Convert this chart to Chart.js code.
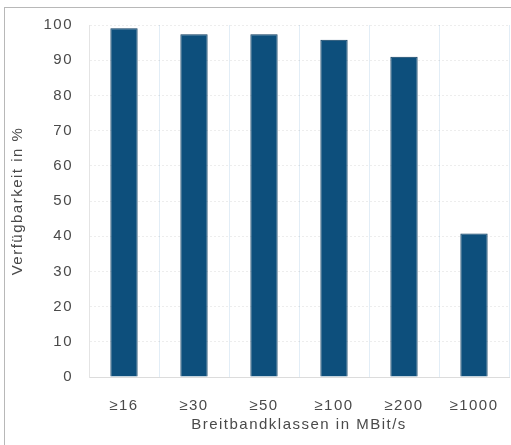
<!DOCTYPE html>
<html>
<head>
<meta charset="utf-8">
<script src="https://cdn.jsdelivr.net/npm/chart.js@4/dist/chart.umd.min.js"></script>
<style>
  html, body { margin: 0; padding: 0; background: #fff; }
  #wrap { width: 511px; height: 445px; }
</style>
</head>
<body>
<div id="wrap"><canvas id="bbChart" width="511" height="445"></canvas></div>
<script>
const categories = ['≥16', '≥30', '≥50', '≥100', '≥200', '≥1000'];
const verfuegbarkeit = [99.1, 97.4, 97.4, 95.8, 91.0, 40.8];
const yTicks = [0, 10, 20, 30, 40, 50, 60, 70, 80, 90, 100];

const ctx = document.getElementById('bbChart').getContext('2d');

// the reference text is rendered quite wide, so spread the letters a bit
const wideText = {
  id: 'wideText',
  beforeLayout(chart) { chart.ctx.letterSpacing = '1.5px'; },
  beforeDraw(chart) { chart.ctx.letterSpacing = '1.5px'; }
};

const frameBorder = {
  id: 'frameBorder',
  beforeDraw(chart) {
    const c = chart.ctx;
    c.save();
    c.fillStyle = '#fff';
    c.fillRect(0, 0, chart.width, chart.height);
    c.strokeStyle = '#b8b8b8';
    c.lineWidth = 1;
    c.strokeRect(4.5, 7.5, chart.width + 10, chart.height + 10);
    c.restore();
  }
};

new Chart(ctx, {
  type: 'bar',
  data: {
    labels: categories,
    datasets: [{
      label: 'Verfügbarkeit',
      data: verfuegbarkeit,
      backgroundColor: '#0d4f7c',
      borderColor: '#0a3a5e',
      borderWidth: 1,
      barPercentage: 0.39,
      categoryPercentage: 1
    }]
  },
  options: {
    responsive: false,
    animation: false,
    layout: { padding: { left: 8, top: 25, right: 2, bottom: 11 } },
    plugins: {
      legend: { display: false },
      tooltip: { enabled: false }
    },
    scales: {
      x: {
        grid: {
          offset: true,
          color: 'rgba(190, 215, 235, 0.45)',
          drawTicks: false
        },
        border: { display: true, color: '#dcdcdc' },
        ticks: {
          color: '#4a4a4a',
          padding: 20,
          font: { family: 'Liberation Sans', size: 15 }
        },
        title: {
          display: true,
          text: 'Breitbandklassen in MBit/s',
          color: '#4a4a4a',
          padding: { top: 4, bottom: 0 },
          font: { family: 'Liberation Sans', size: 15 }
        },
        afterFit(axis) {
          axis.height = 57;
          axis.paddingLeft = 0;
          axis.paddingRight = 0;
        }
      },
      y: {
        min: 0,
        max: 100,
        afterBuildTicks(axis) { axis.ticks = yTicks.map(v => ({ value: v })); },
        grid: {
          color: 'rgba(0, 0, 0, 0.07)',
          drawTicks: false
        },
        border: { display: true, color: '#e4e4e4', dash: [2, 2] },
        ticks: {
          color: '#4a4a4a',
          padding: 16,
          font: { family: 'Liberation Sans', size: 15 }
        },
        title: {
          display: true,
          text: 'Verfügbarkeit in %',
          color: '#4a4a4a',
          padding: { top: 1, bottom: 4 },
          font: { family: 'Liberation Sans', size: 15 }
        },
        afterFit(axis) { axis.width = 81; }
      }
    }
  },
  plugins: [wideText, frameBorder]
});
</script>
</body>
</html>
